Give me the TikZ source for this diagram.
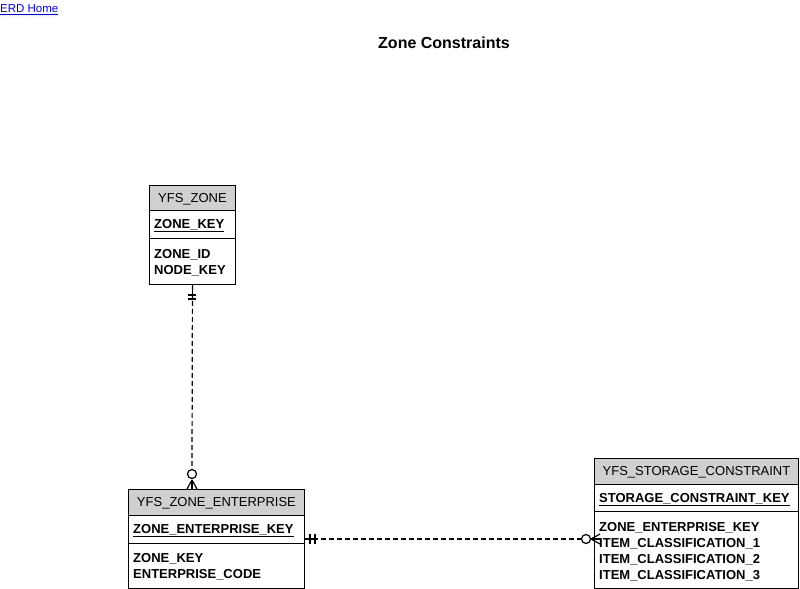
\documentclass[tikz,border=0pt]{standalone}
\usepackage{fontspec}
\setmainfont{Liberation Sans}
\usetikzlibrary{calc}
\definecolor{hdrgray}{RGB}{208,208,208}
\definecolor{linkblue}{RGB}{0,0,238}
\tikzset{
  ent/.style={draw=black, line width=0.9bp, inner sep=0pt, anchor=north west},
  hdr/.style={ent, fill=hdrgray, text depth=-1bp, font=\fontsize{13bp}{15bp}\selectfont},
  keytxt/.style={anchor=west, inner sep=0pt, font=\fontsize{13bp}{15bp}\selectfont\bfseries},
  attrtxt/.style={anchor=north west, inner sep=0pt, align=left, font=\fontsize{13bp}{16bp}\selectfont\bfseries},
  rel/.style={line width=1.2bp, dash pattern=on 5bp off 3bp},
  endmark/.style={line width=1.2bp}
}
\begin{document}
\begin{tikzpicture}[x=1bp,y=-1bp]
\useasboundingbox[fill=white] (0,0) rectangle (800,589);

% link and title
\node[anchor=west, inner sep=0pt, text=linkblue, font=\fontsize{11.5bp}{13bp}\selectfont] (home) at (0,9.5) {\underline{ERD Home}};
\node[inner sep=0pt, font=\fontsize{16bp}{18bp}\selectfont\bfseries] (title) at (444,43) {Zone Constraints};

% YFS_ZONE
\node[hdr, minimum width=86bp, minimum height=25bp] (zh) at (149,185) {YFS\_ZONE};
\node[ent, minimum width=86bp, minimum height=28bp] (zk) at (149,210) {};
\node[ent, minimum width=86bp, minimum height=46bp] (za) at (149,238) {};
\node[keytxt] (zkt) at (154,225.5) {\underline{ZONE\_KEY}};
\node[attrtxt] (zat) at (154,249.5) {ZONE\_ID\\NODE\_KEY};

% YFS_ZONE_ENTERPRISE
\node[hdr, minimum width=176bp, minimum height=26bp] (eh) at (128,489) {YFS\_ZONE\_ENTERPRISE};
\node[ent, minimum width=176bp, minimum height=28bp] (ek) at (128,515) {};
\node[ent, minimum width=176bp, minimum height=45bp] (ea) at (128,543) {};
\node[keytxt] (ekt) at (133,530.5) {\underline{ZONE\_ENTERPRISE\_KEY}};
\node[attrtxt] (eat) at (133,553.5) {ZONE\_KEY\\ENTERPRISE\_CODE};

% YFS_STORAGE_CONSTRAINT
\node[hdr, minimum width=204bp, minimum height=26bp] (sh) at (594,458) {YFS\_STORAGE\_CONSTRAINT};
\node[ent, minimum width=204bp, minimum height=27bp] (sk) at (594,484) {};
\node[ent, minimum width=204bp, minimum height=77bp] (sa) at (594,511) {};
\node[keytxt] (skt) at (599,499.5) {\underline{STORAGE\_CONSTRAINT\_KEY}};
\node[attrtxt] (sat) at (599,522.5) {ZONE\_ENTERPRISE\_KEY\\ITEM\_CLASSIFICATION\_1\\ITEM\_CLASSIFICATION\_2\\ITEM\_CLASSIFICATION\_3};

% relationship 1: YFS_ZONE -> YFS_ZONE_ENTERPRISE
\coordinate (r1a) at (za.south);
\coordinate (r1b) at ($(eh.north west)+(64,0)$);
\draw[rel] (r1a) -- ($(r1b)+(0,-20)$);
\draw[endmark] (r1a) -- ++(0,8);
\draw[endmark] ($(r1a)+(-4,10)$) -- ++(8,0);
\draw[endmark] ($(r1a)+(-4,14)$) -- ++(8,0);
\draw[endmark] ($(r1b)+(0,-20)$) -- ($(r1b)+(0,-10)$);
\draw[endmark, fill=white] ($(r1b)+(0,-15)$) circle (4.5);
\draw[endmark] ($(r1b)+(0,-9)$) -- ($(r1b)+(-5,0)$);
\draw[endmark] ($(r1b)+(0,-9)$) -- (r1b);
\draw[endmark] ($(r1b)+(0,-9)$) -- ($(r1b)+(5,0)$);

% relationship 2: YFS_ZONE_ENTERPRISE -> YFS_STORAGE_CONSTRAINT
\coordinate (r2a) at ($(ek.north east)+(0,24)$);
\coordinate (r2b) at ($(sa.north west)+(0,28)$);
\draw[rel] (r2a) -- ($(r2b)+(-13,0)$);
\draw[endmark] (r2a) -- ++(12,0);
\draw[endmark] ($(r2a)+(5,-5)$) -- ++(0,10);
\draw[endmark] ($(r2a)+(10,-5)$) -- ++(0,10);
\draw[endmark, fill=white] ($(r2b)+(-8,0)$) circle (4.5);
\draw[endmark] ($(r2b)+(-3,0)$) -- ($(r2b)+(6,-5)$);
\draw[endmark] ($(r2b)+(-3,0)$) -- ($(r2b)+(6,0)$);
\draw[endmark] ($(r2b)+(-3,0)$) -- ($(r2b)+(6,5)$);
\end{tikzpicture}
\end{document}
